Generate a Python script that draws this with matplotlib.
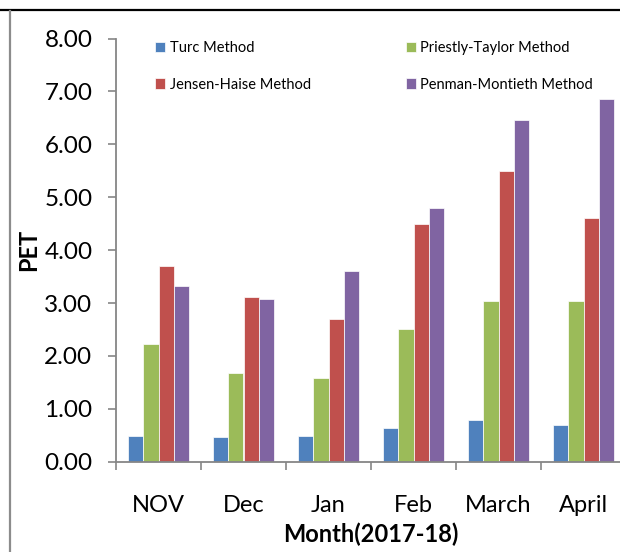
import matplotlib
matplotlib.use("Agg")
import matplotlib.pyplot as plt
import numpy as np
from matplotlib.lines import Line2D
from matplotlib.ticker import FormatStrFormatter, MultipleLocator

plt.rcParams["font.family"] = ["Lato", "DejaVu Sans"]

# monthly PET (mm/day) by method
months = ["NOV", "Dec", "Jan", "Feb", "March", "April"]
turc = [0.49, 0.47, 0.48, 0.63, 0.79, 0.69]
priestly_taylor = [2.23, 1.67, 1.58, 2.50, 3.03, 3.04]
jensen_haise = [3.69, 3.11, 2.69, 4.49, 5.50, 4.60]
penman_monteith = [3.32, 3.07, 3.61, 4.80, 6.45, 6.85]

series = [
    ("Turc Method", turc, "#4F81BD"),
    ("Priestly-Taylor Method", priestly_taylor, "#9BBB59"),
    ("Jensen-Haise Method", jensen_haise, "#C0504D"),
    ("Penman-Montieth Method", penman_monteith, "#8064A2"),
]

W, H = 620, 552
fig = plt.figure(figsize=(W / 100, H / 100), dpi=100)
ax = fig.add_axes([116 / W, (H - 461.7) / H, 510 / W, 423.2 / H])

x = np.arange(len(months))
bw = 0.18
bars = {}
for i, (name, vals, col) in enumerate(series):
    bars[name] = ax.bar(x + (i - 1.5) * bw, vals, bw, color=col,
                        edgecolor="white", linewidth=0.5, label=name)

ax.set_xlim(-0.5, len(months) - 0.5)
ax.set_ylim(0, 8)

grey = "#868686"
for s in ["top", "right"]:
    ax.spines[s].set_visible(False)
for s in ["left", "bottom"]:
    ax.spines[s].set_color(grey)
    ax.spines[s].set_linewidth(1.3)

ax.yaxis.set_major_locator(MultipleLocator(1))
ax.yaxis.set_major_formatter(FormatStrFormatter("%.2f"))
ax.tick_params(axis="y", direction="out", length=6, width=1.2, color=grey,
               pad=11, labelsize=17.5)

ax.set_xticks(x)
ax.set_xticklabels(months)
ax.set_xticks(np.arange(len(months) + 1) - 0.5, minor=True)
ax.tick_params(axis="x", which="major", length=0, pad=24, labelsize=17)
ax.tick_params(axis="x", which="minor", direction="out", length=6,
               width=1.2, color=grey)

ax.set_xlabel("Month(2017-18)", fontsize=17, fontweight="bold", labelpad=5)
ax.set_ylabel("PET", fontsize=17, fontweight="bold", labelpad=3)

# legend in two rows: Turc / Priestly-Taylor, Jensen-Haise / Penman-Montieth
order = ["Turc Method", "Jensen-Haise Method",
         "Priestly-Taylor Method", "Penman-Montieth Method"]
ax.legend([bars[n] for n in order], order, ncol=2, frameon=False,
          loc="upper left", bbox_to_anchor=(155 / W, 1 - 41 / H),
          bbox_transform=fig.transFigure, fontsize=10.5,
          handlelength=0.7, handleheight=0.7, handletextpad=0.3,
          columnspacing=6.5, labelspacing=1.55, borderpad=0, borderaxespad=0)

# outer frame lines
fig.add_artist(Line2D([0, 1], [1 - 10 / H, 1 - 10 / H], color="black",
                      linewidth=1.6, transform=fig.transFigure))
fig.add_artist(Line2D([9.5 / W, 9.5 / W], [0, 1 - 11 / H], color="#8c8c8c",
                      linewidth=1.6, transform=fig.transFigure))

fig.savefig("out.png", dpi=100)
